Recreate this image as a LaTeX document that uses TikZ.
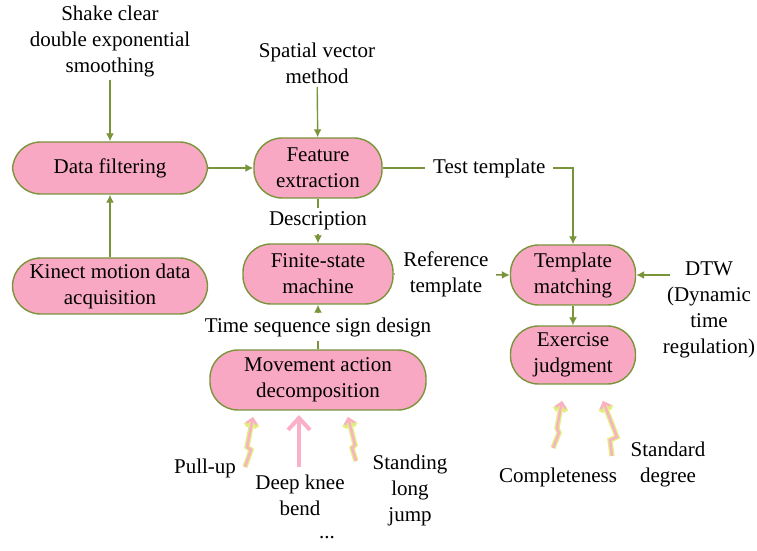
\documentclass[tikz,border=0pt]{standalone}
\usepackage{fontspec}
\setmainfont{Liberation Serif}
\usetikzlibrary{arrows.meta}

\definecolor{stagefill}{RGB}{249,168,196}
\definecolor{stageline}{RGB}{122,148,58}
\definecolor{boltline}{RGB}{226,238,128}
\definecolor{boltfill}{RGB}{249,176,200}

\tikzset{
  stage/.style={draw=stageline, fill=stagefill, line width=0.7pt, rounded corners=14pt,
    align=center, inner sep=1pt},
  note/.style={align=center, inner sep=1.5pt},
  gap/.style={note, fill=white, inner xsep=4pt, inner ysep=2pt},
  flow/.style={draw=stageline, line width=0.7pt, -{Latex[length=4pt,width=4pt]}},
  boltrim/.style={draw=boltline, line width=2.6pt, line join=miter,
    -{Straight Barb[length=3pt,width=6pt]}},
  boltcore/.style={draw=boltfill, line width=1.2pt, line join=miter,
    -{Straight Barb[length=2.6pt,width=5pt]}},
  straightup/.style={draw=boltfill, line width=2pt, -{Straight Barb[length=6pt,width=11pt]}},
}

\begin{document}
\begin{tikzpicture}[x=0.5pt,y=-0.5pt,font=\fontsize{10.5}{13}\selectfont]
\useasboundingbox (0,0) rectangle (757,551);

% stages
\node [stage, minimum width=97.5pt, minimum height=26pt] (filt) at (110,168) {Data filtering};
\node [stage, minimum width=97.5pt, minimum height=28pt] (kinect) at (110,286) {Kinect motion data\\acquisition};
\node [stage, minimum width=64pt, minimum height=30pt] (feat) at (318,168) {Feature\\extraction};
\node [stage, minimum width=75pt, minimum height=30pt] (fsm) at (318,274) {Finite-state\\machine};
\node [stage, minimum width=108pt, minimum height=30pt] (move) at (318,380) {Movement action\\decomposition};
\node [stage, minimum width=62.5pt, minimum height=30pt] (match) at (573,275) {Template\\matching};
\node [stage, minimum width=62.5pt, minimum height=29pt] (judge) at (573,355) {Exercise\\judgment};

% inputs and labels
\node [note] (shake) at (110,41) {Shake clear\\double exponential\\smoothing};
\node [note] (spatial) at (317,63) {Spatial vector\\method};
\node [note] (dtw) at (709,310) {DTW\\(Dynamic\\time\\regulation)};
\node [note] (pull) at (205,468) {Pull-up};
\node [note] (deep) at (300,495) {Deep knee\\bend};
\node [note] (stand) at (410,490) {Standing\\long\\jump};
\node [note] (more) at (327,538) {...};
\node [note] (compl) at (558,477) {Completeness};
\node [note] (stdeg) at (668,464) {Standard\\degree};

% connectors
\draw [flow] (shake) -- (filt);
\draw [flow] (kinect) -- (filt);
\draw [flow] (filt) -- (feat);
\draw [flow] (spatial) -- (feat);
\draw [flow] (feat.east) -| node [gap, pos=0.28] {Test template} (match.north);
\draw [flow] (feat) -- node [gap] {Description} (fsm);
\draw [flow] (move) -- node [gap] {Time sequence sign design} (fsm);
\draw [flow] (fsm.east) -- node [gap, pos=0.45] {Reference\\template} (match.west);
\draw [flow] ([xshift=5pt]dtw.west |- match.east) -- (match.east);
\draw [flow] (match) -- (judge);

% lightning arrows
\draw [boltrim] (245,467) -- (251,450) -- (247,447) -- (253,417);
\draw [boltcore] (245,467) -- (251,450) -- (247,447) -- (253,417);
\draw [boltrim] (356,461) -- (352,448) -- (355,445) -- (348,417);
\draw [boltcore] (356,461) -- (352,448) -- (355,445) -- (348,417);
\draw [straightup] (299,467) -- (299,415);
\draw [boltrim] (553,448) -- (559,433) -- (557,428) -- (562,401);
\draw [boltcore] (553,448) -- (559,433) -- (557,428) -- (562,401);
\draw [boltrim] (612,456) -- (610,440) -- (617,437) -- (603,401);
\draw [boltcore] (612,456) -- (610,440) -- (617,437) -- (603,401);
\end{tikzpicture}
\end{document}
